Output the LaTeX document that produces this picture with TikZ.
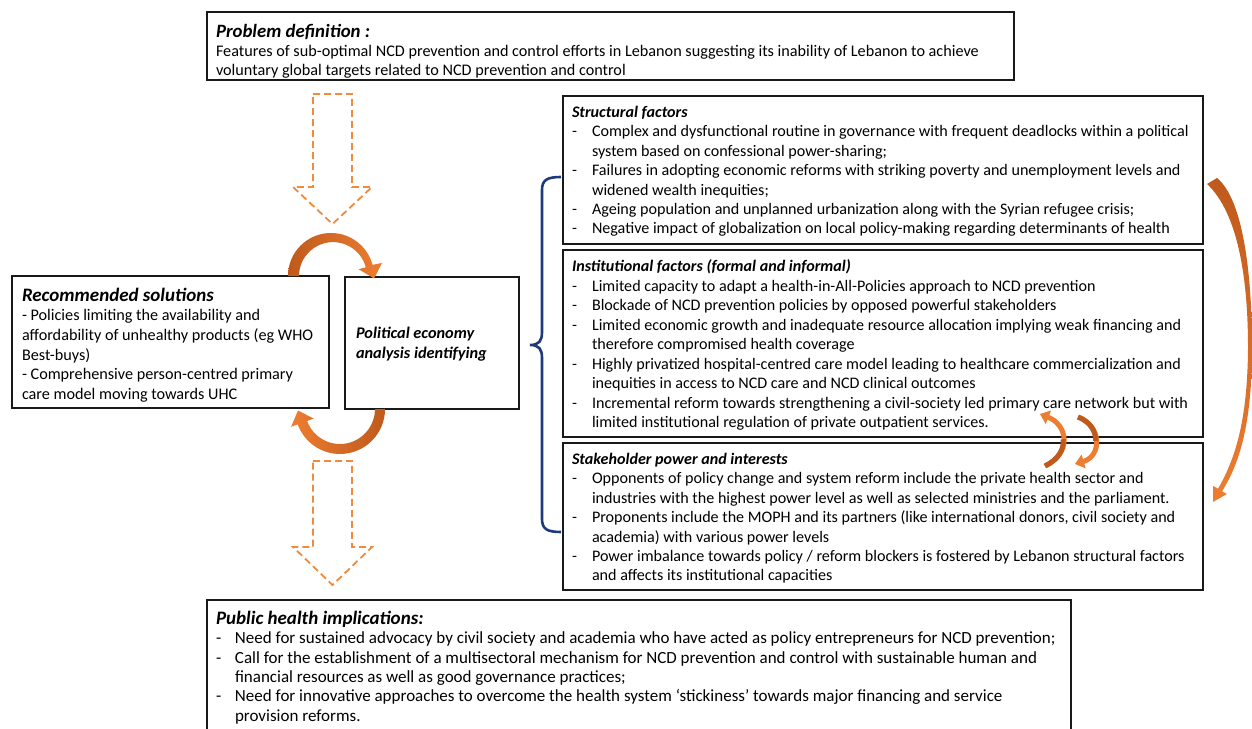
\documentclass[tikz,border=0pt]{standalone}
\usepackage{fontspec}
\setmainfont{Carlito}
\usetikzlibrary{calc,arrows.meta}
\definecolor{orA}{HTML}{ED7D31}
\definecolor{orD}{HTML}{BF5A1C}
\definecolor{orL}{HTML}{F08A3C}
\definecolor{navy}{HTML}{1F3A7A}
\newcommand\bodyfont{\fontsize{16.1}{19.45}\selectfont}
\newcommand\itm{\makebox[20pt][l]{-}}
\newcommand\ind{\hspace*{20pt}}
\begin{document}
\begin{tikzpicture}[x=1pt,y=1pt,
  box/.style={draw=black!90,line width=1.5pt,inner sep=0pt,outer sep=0pt},
  txt/.style={inner sep=0pt,outer sep=0pt,align=left,anchor=north west,font=\bodyfont},
  dasharrow/.style={draw=orL,line width=1.8pt,dash pattern=on 7pt off 4pt},
  ttl/.style={font=\fontsize{16.3}{19.5}\selectfont\bfseries\itshape},
  small/.style={line width=5pt,-{Triangle[width=14pt,length=9pt]}}
  ]
\useasboundingbox (0,0) rectangle (1252,728);
\fill[white] (0,0) rectangle (1252,728);

% ---------- boxes ----------
\node[box,minimum width=807pt,minimum height=68pt] (prob) at (610.5,682) {};
\node[box,minimum width=317pt,minimum height=132pt] (rec) at (170.5,386) {};
\node[box,minimum width=174pt,minimum height=132pt] (pol) at (432,385) {};
\node[box,minimum width=640pt,minimum height=148pt] (str) at (883,558) {};
\node[box,minimum width=640pt,minimum height=187pt] (ins) at (883,384.5) {};
\node[box,minimum width=640pt,minimum height=147pt] (stk) at (883,211.5) {};
\begin{scope}
\clip (0,0) rectangle (1252,728);
\node[box,minimum width=864pt,minimum height=138pt] (pub) at (639,59) {};
\end{scope}

% ---------- texts ----------
\node[txt,font=\fontsize{16.2}{19.3}\selectfont] (probT) at ($(prob.north west)+(9,-12)$)
 {{\fontsize{18.8}{19.3}\selectfont\bfseries\itshape Problem definition :}\\
  Features of sub-optimal NCD prevention and control efforts in Lebanon suggesting its inability of Lebanon to achieve\\
  voluntary global targets related to NCD prevention and control};

\node[txt,font=\fontsize{16.2}{19.6}\selectfont] (recT) at ($(rec.north west)+(10,-12)$)
 {{\fontsize{19}{19.6}\selectfont\bfseries\itshape Recommended solutions}\\
  - Policies limiting the availability and\\
  affordability of unhealthy products (eg WHO\\
  Best-buys)\\
  - Comprehensive person-centred primary\\
  care model moving towards UHC};

\node[txt,anchor=west,ttl] (polT) at ($(pol.west)+(11,-1)$)
 {Political economy\\analysis identifying};

\node[txt] (strT) at ($(str.north west)+(9,-10)$)
 {\textbf{\textit{Structural factors}}\\
  \itm Complex and dysfunctional routine in governance with frequent deadlocks within a political\\
  \ind system based on confessional power-sharing;\\
  \itm Failures in adopting economic reforms with striking poverty and unemployment levels and\\
  \ind widened wealth inequities;\\
  \itm Ageing population and unplanned urbanization along with the Syrian refugee crisis;\\
  \itm Negative impact of globalization on local policy-making regarding determinants of health};

\node[txt] (insT) at ($(ins.north west)+(9,-10)$)
 {\textbf{\textit{Institutional factors (formal and informal)}}\\
  \itm Limited capacity to adapt a health-in-All-Policies approach to NCD prevention\\
  \itm Blockade of NCD prevention policies by opposed powerful stakeholders\\
  \itm Limited economic growth and inadequate resource allocation implying weak financing and\\
  \ind therefore compromised health coverage\\
  \itm Highly privatized hospital-centred care model leading to healthcare commercialization and\\
  \ind inequities in access to NCD care and NCD clinical outcomes\\
  \itm Incremental reform towards strengthening a civil-society led primary care network but with\\
  \ind limited institutional regulation of private outpatient services.};

\node[txt] (stkT) at ($(stk.north west)+(9,-10)$)
 {\textbf{\textit{Stakeholder power and interests}}\\
  \itm Opponents of policy change and system reform include the private health sector and\\
  \ind industries with the highest power level as well as selected ministries and the parliament.\\
  \itm Proponents include the MOPH and its partners (like international donors, civil society and\\
  \ind academia) with various power levels\\
  \itm Power imbalance towards policy / reform blockers is fostered by Lebanon structural factors\\
  \ind and affects its institutional capacities};

\node[txt,font=\fontsize{17}{19.4}\selectfont] (pubT) at ($(pub.north west)+(9,-11)$)
 {{\fontsize{19}{18.5}\selectfont\bfseries\itshape Public health implications:}\\
  \makebox[19pt][l]{-}Need for sustained advocacy by civil society and academia who have acted as policy entrepreneurs for NCD prevention;\\
  \makebox[19pt][l]{-}Call for the establishment of a multisectoral mechanism for NCD prevention and control with sustainable human and\\
  \hspace*{19pt}financial resources as well as good governance practices;\\
  \makebox[19pt][l]{-}Need for innovative approaches to overcome the health system ‘stickiness’ towards major financing and service\\
  \hspace*{19pt}provision reforms.};

% ---------- dashed block arrows ----------
\draw[dasharrow] (313,634) -- (352,634) -- (352,541) -- (372,541) -- (332.5,504) -- (293,541) -- (313,541) -- cycle;
\draw[dasharrow] (313,267) -- (352,267) -- (352,181) -- (372,181) -- (332.5,143) -- (293,181) -- (313,181) -- cycle;

% ---------- curved arrows between rec and pol ----------
\shade[left color=orD,right color=orA] (288,452) arc[start angle=180,end angle=15,radius=43]
  -- (382,465) -- (374.1,449.5) -- (358.6,458.8) -- (365.8,460.7)
  arc[start angle=15,end angle=180,radius=34] -- cycle;
\shade[left color=orA,right color=orD] (385,319) arc[start angle=0,end angle=-160,radius=45]
  -- (291.1,301.2) -- (298,317.5) -- (313.7,309.4) -- (307.1,307)
  arc[start angle=-160,end angle=0,radius=35] -- cycle;

% ---------- brace ----------
\coordinate (bTop) at (561,551);
\coordinate (bBot) at (561,196);
\coordinate (bTip) at (530,383);
\draw[navy,line width=2.6pt] (bTop) .. controls (547,551) and (542,548) .. (542,538) -- (542,396)
  .. controls (542,387) and (539,383) .. (bTip) .. controls (539,383) and (542,379) .. (542,370)
  -- (542,209) .. controls (542,199) and (547,196) .. (bBot);

% ---------- big right arrow ----------
\shade[top color=orD,bottom color=orA] (1217,550) .. controls (1244,528) and (1252,450) .. (1252,380)
  .. controls (1252,312) and (1242,268) .. (1222,236.7) -- (1226.8,234) -- (1213,226) -- (1213.2,242)
  -- (1218,239.3) .. controls (1237,272) and (1247.5,312) .. (1248,380)
  .. controls (1248,450) and (1238,515) .. (1207,544) -- cycle;

% ---------- small arrows between ins and stk ----------
\draw[small,orA] (1045,262) .. controls (1072,275) and (1068,303) .. (1040,314);
\draw[line width=5pt,orD] (1045,262) .. controls (1058.5,268.5) and (1064.25,278.75) .. (1063.1,288.75);
\draw[small,orA] (1078,311) .. controls (1102,302) and (1102,272) .. (1075,264);
\draw[line width=5pt,orD] (1078,311) .. controls (1090,306.5) and (1096,296.75) .. (1095.6,287.1);
\end{tikzpicture}
\end{document}
